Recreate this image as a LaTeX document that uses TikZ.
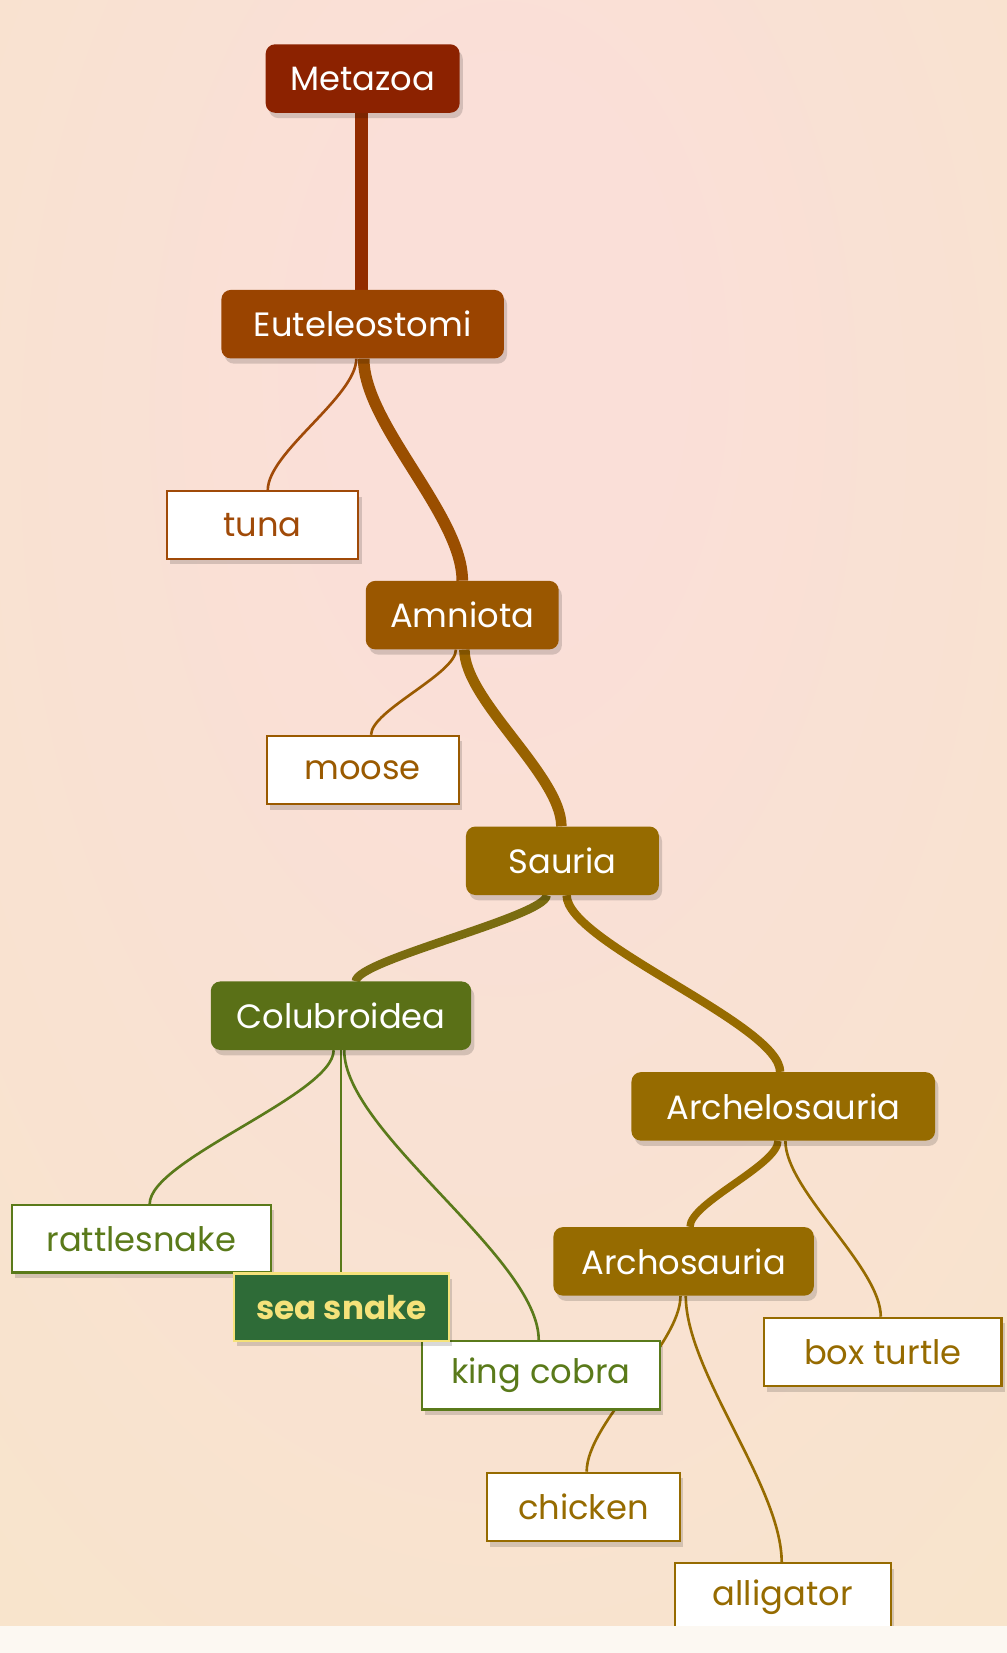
\documentclass[tikz,border=0pt]{standalone}
\usepackage{fontspec}
\setmainfont{Poppins}
\usetikzlibrary{shadows}
\pgfdeclarelayer{back}
\pgfdeclarelayer{edges}
\pgfdeclarelayer{front}
\pgfsetlayers{back,edges,main,front}
\definecolor{bgpink}{HTML}{FADFD8}
\definecolor{bgpeach}{HTML}{F8E4CC}
\definecolor{cmeta}{HTML}{8C2200}
\definecolor{ceut}{HTML}{9A4400}
\definecolor{camn}{HTML}{9A5700}
\definecolor{csau}{HTML}{966B00}
\definecolor{ccol}{HTML}{5A7017}
\definecolor{ctuna}{HTML}{A04A08}
\definecolor{cmoose}{HTML}{9A5A00}
\definecolor{csnake}{HTML}{5A7A1A}
\definecolor{cseafill}{HTML}{2E6B37}
\definecolor{cseatext}{HTML}{F5E27A}
\definecolor{cstrip}{HTML}{FCF8F2}
\definecolor{emeta}{HTML}{922C00}
\definecolor{eeut}{HTML}{9A4E00}
\definecolor{eamn}{HTML}{986200}
\definecolor{esau}{HTML}{7A6C10}
\pgfdeclareradialshading{bgshade}{\pgfpoint{0bp}{16bp}}{color(0bp)=(bgpink); color(8bp)=(bgpink); color(40bp)=(bgpeach); color(80bp)=(bgpeach)}
\tikzset{
  base/.style={font=\fontsize{32}{38}\selectfont, inner sep=0pt, anchor=center,
    drop shadow={shadow xshift=3pt, shadow yshift=-5pt, fill=black, opacity=0.15}},
  clade/.style={base, rounded corners=9pt, fill=#1, text=white},
  leaf/.style={base, fill=white, draw=#1, line width=2pt, text=#1},
  thickedge/.style 2 args={draw=#1, line width=#2},
  thinedge/.style={draw=#1, line width=2.5pt},
}
\begin{document}
\begin{tikzpicture}[x=1pt,y=-1pt]
\useasboundingbox (0,0) rectangle (955,1568);
\begin{pgfonlayer}{back}
\shade[shading=bgshade] (0,0) rectangle (955,1568);
\end{pgfonlayer}
% nodes
\node[clade=cmeta, minimum width=184pt, minimum height=65pt] (meta) at (344,74.5) {Metazoa};
\node[clade=ceut, minimum width=268pt, minimum height=65pt] (eut) at (344,307.5) {Euteleostomi};
\node[leaf=ctuna, minimum width=182pt, minimum height=64pt] (tuna) at (249,498) {tuna};
\node[clade=camn, minimum width=183pt, minimum height=65pt] (amn) at (438.5,583.5) {Amniota};
\node[leaf=cmoose, minimum width=182pt, minimum height=65pt] (moose) at (344,730.5) {moose};
\node[clade=csau, minimum width=183pt, minimum height=65pt] (sau) at (533.5,816.5) {Sauria};
\node[clade=ccol, minimum width=247pt, minimum height=65pt] (col) at (323.5,963.5) {Colubroidea};
\node[clade=csau, minimum width=288pt, minimum height=65pt] (arch) at (743,1049.5) {Archelosauria};
\node[leaf=csnake, minimum width=246pt, minimum height=64pt] (rat) at (134,1175) {rattlesnake};
\node[clade=csau, minimum width=247pt, minimum height=65pt] (archo) at (648.5,1196.5) {Archosauria};
\node[leaf=csau, minimum width=225pt, minimum height=65pt] (box) at (837.5,1282.5) {box turtle};
\node[leaf=csnake, minimum width=226pt, minimum height=65pt] (king) at (513,1304.5) {king cobra};
\node[leaf=csau, minimum width=183pt, minimum height=65pt] (chick) at (553.5,1429.5) {chicken};
\node[leaf=csau, minimum width=205pt, minimum height=64pt] (alli) at (742.5,1515) {alligator};
\node[base, fill=cseafill, draw=cseatext, line width=2pt, text=cseatext, font=\fontsize{31}{38}\selectfont\bfseries, minimum width=204pt, minimum height=64pt] (sea) at (324,1240) {sea snake};
% edges
\begin{pgfonlayer}{edges}
\draw[thickedge={emeta}{12pt}] ([xshift=-1pt]meta.south) -- ([xshift=-1pt]eut.north);
\draw[thinedge=ctuna] ([xshift=-6pt]eut.south) .. controls +(0,36) and +(0,-36) .. ([xshift=5pt]tuna.north);
\draw[thickedge={eeut}{11pt}] ([xshift=1pt]eut.south) .. controls +(0,62) and +(0,-62) .. (amn.north);
\draw[thinedge=cmoose] ([xshift=-6pt]amn.south) .. controls +(0,23) and +(0,-23) .. ([xshift=8pt]moose.north);
\draw[thickedge={eamn}{10pt}] ([xshift=2pt]amn.south) .. controls +(0,48) and +(0,-48) .. ([xshift=-1pt]sau.north);
\draw[thickedge={esau}{8pt}] ([xshift=-15pt]sau.south) .. controls +(0,20) and +(0,-20) .. ([xshift=14pt]col.north);
\draw[thickedge={csau}{8pt}] ([xshift=4pt]sau.south) .. controls +(0,45) and +(0,-45) .. ([xshift=-3pt]arch.north);
\draw[thinedge=csnake] ([xshift=-7pt]col.south) .. controls +(0,42) and +(0,-42) .. ([xshift=8pt]rat.north);
\draw[thinedge=csnake] (col.south) -- (col.south |- sea.north);
\draw[thinedge=csnake] ([xshift=3pt]col.south) .. controls +(0,78) and +(0,-78) .. ([xshift=-2pt]king.north);
\draw[thickedge={csau}{7pt}] ([xshift=-5pt]arch.south) .. controls +(0,23) and +(0,-23) .. ([xshift=6pt]archo.north);
\draw[thinedge=csau] ([xshift=2pt]arch.south) .. controls +(0,47) and +(0,-47) .. ([xshift=-2pt]box.north);
\draw[thinedge=csau] ([xshift=-3pt]archo.south) .. controls +(0,47) and +(0,-47) .. ([xshift=3pt]chick.north);
\draw[thinedge=csau] ([xshift=2pt]archo.south) .. controls +(0,72) and +(0,-72) .. ([xshift=-1pt]alli.north);
\end{pgfonlayer}
\begin{pgfonlayer}{front}
\fill[cstrip] (0,1542) rectangle (955,1568);
\end{pgfonlayer}
\end{tikzpicture}
\end{document}
